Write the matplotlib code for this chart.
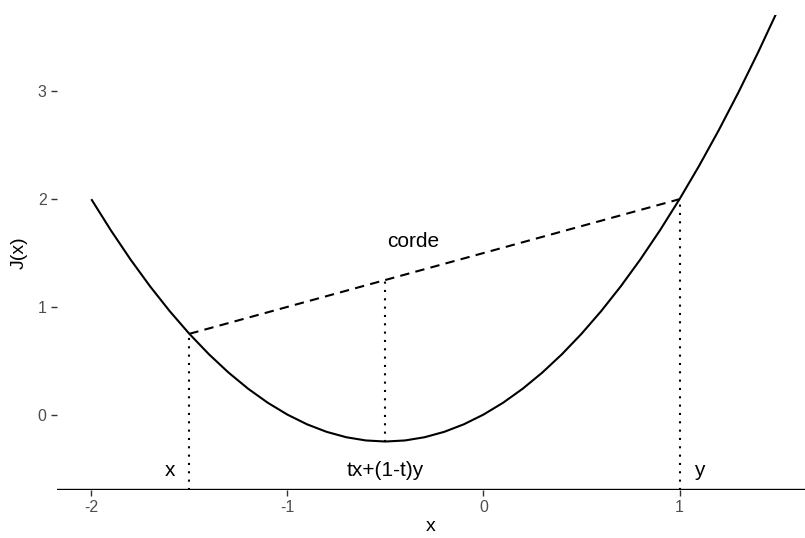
import matplotlib
matplotlib.use("Agg")
import matplotlib.pyplot as plt

plt.rcParams['font.family'] = ['Liberation Sans', 'DejaVu Sans']

# Curve J(x)
curve_x = [-2.0, -1.9, -1.8, -1.7, -1.6, -1.5, -1.4, -1.3, -1.2, -1.1, -1.0,
           -0.9, -0.8, -0.7, -0.6, -0.5, -0.4, -0.3, -0.2, -0.1, 0.0,
           0.1, 0.2, 0.3, 0.4, 0.5, 0.6, 0.7, 0.8, 0.9, 1.0,
           1.1, 1.2, 1.3, 1.4, 1.5]
curve_y = [2.0, 1.71, 1.44, 1.19, 0.96, 0.75, 0.56, 0.39, 0.24, 0.11, 0.0,
           -0.09, -0.16, -0.21, -0.24, -0.25, -0.24, -0.21, -0.16, -0.09, 0.0,
           0.11, 0.24, 0.39, 0.56, 0.75, 0.96, 1.19, 1.44, 1.71, 2.0,
           2.31, 2.64, 2.99, 3.36, 3.75]

# Chord
chord_x = [-1.5, 1.0]
chord_y = [0.75, 2.0]

# Dotted verticals: x, y_start, y_end
vert_x = [-1.5, -0.5, 1.0]
vert_y0 = [-0.7, -0.25, -0.7]
vert_y1 = [0.75, 1.25, 2.0]

baseline_y = -0.7

# Text labels
label_text = ["x", "tx+(1-t)y", "y", "corde"]
label_x = [-1.6, -0.5, 1.1, -0.36]
label_y = [-0.52, -0.52, -0.52, 1.61]

xticks = [-2, -1, 0, 1]
yticks = [0, 1, 2, 3]

W, H = 805, 538
left_px, right_px, top_px, bottom_px = 57, 805, 15, 490
fig = plt.figure(figsize=(W / 100, H / 100), dpi=100)
ax = fig.add_axes([left_px / W, 1 - bottom_px / H,
                   (right_px - left_px) / W, (bottom_px - top_px) / H])

ax.plot(curve_x, curve_y, color='black', lw=1.5, solid_capstyle='butt')
ax.plot(chord_x, chord_y, color='black', lw=1.5, ls=(0, (4.5, 3)))
for vx, a, b in zip(vert_x, vert_y0, vert_y1):
    ax.plot([vx, vx], [a, b], color='black', lw=1.5, ls=(0, (1, 3)))
ax.axhline(baseline_y, color='black', lw=1.7)

for t, tx, ty in zip(label_text, label_x, label_y):
    ax.text(tx, ty, t, ha='center', va='center', fontsize=15, color='black')

ax.set_xlim(-2.175, 1.64)
ax.set_ylim(-0.7, 3.71)
ax.set_xticks(xticks)
ax.set_yticks(yticks)
ax.set_xticklabels([str(v) for v in xticks])
ax.set_yticklabels([str(v) for v in yticks])
for s in ax.spines.values():
    s.set_visible(False)
ax.tick_params(axis='both', colors='#333333', labelcolor='#4D4D4D', labelsize=11.5,
               length=4, width=1.0, pad=3.5)
ax.set_xlabel("x", fontsize=14, labelpad=2)
ax.set_ylabel("J(x)", fontsize=14, labelpad=7)

fig.savefig("out.png", dpi=100)
